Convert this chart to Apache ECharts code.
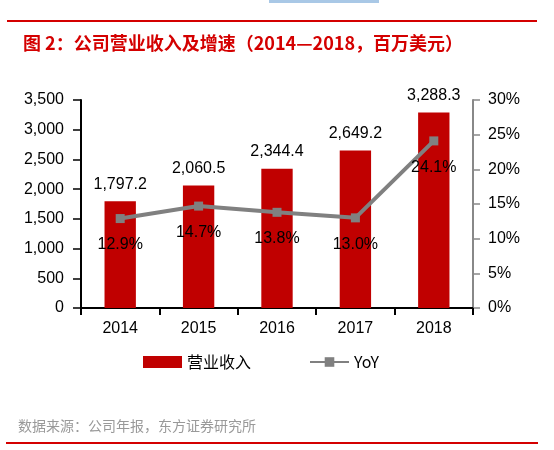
<!DOCTYPE html>
<html>
<head>
<meta charset="utf-8">
<script src="https://cdn.jsdelivr.net/npm/echarts@6/dist/echarts.min.js"></script>
<style>
  html, body { margin: 0; padding: 0; background: #fff; }
  #container { width: 554px; height: 450px; }
</style>
</head>
<body>
<div id="container"></div>
<script>
var years = ['2014', '2015', '2016', '2017', '2018'];
var revenue = [1797.2, 2060.5, 2344.4, 2649.2, 3288.3];   // 营业收入，百万美元
var yoy = [12.9, 14.7, 13.8, 13.0, 24.1];                 // 增速 %

var dom = document.getElementById('container');
var myChart = echarts.init(dom);
var baseFont = 'Liberation Sans, Arial, sans-serif';
var cjkFont = 'Noto Sans CJK SC, sans-serif';

function fmtNum(v) {
    return v.toFixed(1).replace(/\B(?=(\d{3})+(?!\d))/g, ',');
}

var option = {
    backgroundColor: '#fff',
    animation: false,
    textStyle: { fontFamily: baseFont },
    title: {
        text: '图 2：公司营业收入及增速（2014—2018，百万美元）',
        left: 18,
        top: 29,
        textStyle: {
            color: '#d40000',
            fontSize: 18,
            fontWeight: 'bold',
            fontFamily: cjkFont
        }
    },
    graphic: [
        { type: 'rect', shape: { x: 269, y: 0, width: 110, height: 3 }, style: { fill: '#a9c8e6' } },
        { type: 'rect', shape: { x: 7, y: 20, width: 530, height: 2 }, style: { fill: '#d40000' } },
        { type: 'rect', shape: { x: 6, y: 442, width: 532, height: 2 }, style: { fill: '#d40000' } },
        {
            type: 'text', left: 18, top: 419,
            style: {
                text: '数据来源：公司年报，东方证券研究所',
                fill: '#999',
                font: '14px "Noto Sans CJK SC", sans-serif'
            }
        }
    ],
    legend: {
        top: 349,
        left: 138,
        itemGap: 58,
        itemWidth: 39,
        itemHeight: 12,
        textStyle: { fontSize: 16, color: '#000', fontFamily: cjkFont },
        data: [
            { name: '营业收入', icon: 'rect' },
            { name: 'YoY' }
        ]
    },
    grid: {
        left: 81,
        right: 81,
        top: 100,
        bottom: 142
    },
    xAxis: {
        type: 'category',
        data: years,
        axisLine: { lineStyle: { color: '#000', width: 2 } },
        axisTick: { show: true, length: 7, lineStyle: { color: '#000', width: 2 } },
        axisLabel: { fontSize: 16, color: '#000', margin: 13 }
    },
    yAxis: [
        {
            type: 'value',
            min: 0,
            max: 3500,
            interval: 500,
            splitLine: { show: false },
            axisLine: { show: true, lineStyle: { color: '#000', width: 2 } },
            axisTick: { show: true, length: 8, lineStyle: { color: '#000', width: 1.5 } },
            axisLabel: {
                fontSize: 16, color: '#000', margin: 17,
                formatter: function (v) { return v.toString().replace(/\B(?=(\d{3})+(?!\d))/g, ','); }
            }
        },
        {
            type: 'value',
            min: 0,
            max: 30,
            interval: 5,
            splitLine: { show: false },
            axisLine: { show: true, lineStyle: { color: '#888', width: 2 } },
            axisTick: { show: true, length: 7, lineStyle: { color: '#888', width: 1.5 } },
            axisLabel: { fontSize: 16, color: '#000', margin: 15, formatter: '{value}%' }
        }
    ],
    series: [
        {
            name: '营业收入',
            type: 'bar',
            barWidth: '40%',
            itemStyle: { color: '#c00000' },
            label: {
                show: true,
                position: 'top',
                distance: 9,
                fontSize: 16,
                color: '#000',
                formatter: function (p) { return fmtNum(p.value); }
            },
            data: revenue
        },
        {
            name: 'YoY',
            type: 'line',
            yAxisIndex: 1,
            symbol: 'rect',
            symbolSize: 9,
            lineStyle: { color: '#808080', width: 4 },
            itemStyle: { color: '#808080' },
            label: {
                show: true,
                position: 'bottom',
                distance: 14,
                fontSize: 16,
                color: '#000',
                formatter: function (p) { return p.value.toFixed(1) + '%'; }
            },
            data: yoy
        }
    ]
};

myChart.setOption(option, true);
</script>
</body>
</html>
